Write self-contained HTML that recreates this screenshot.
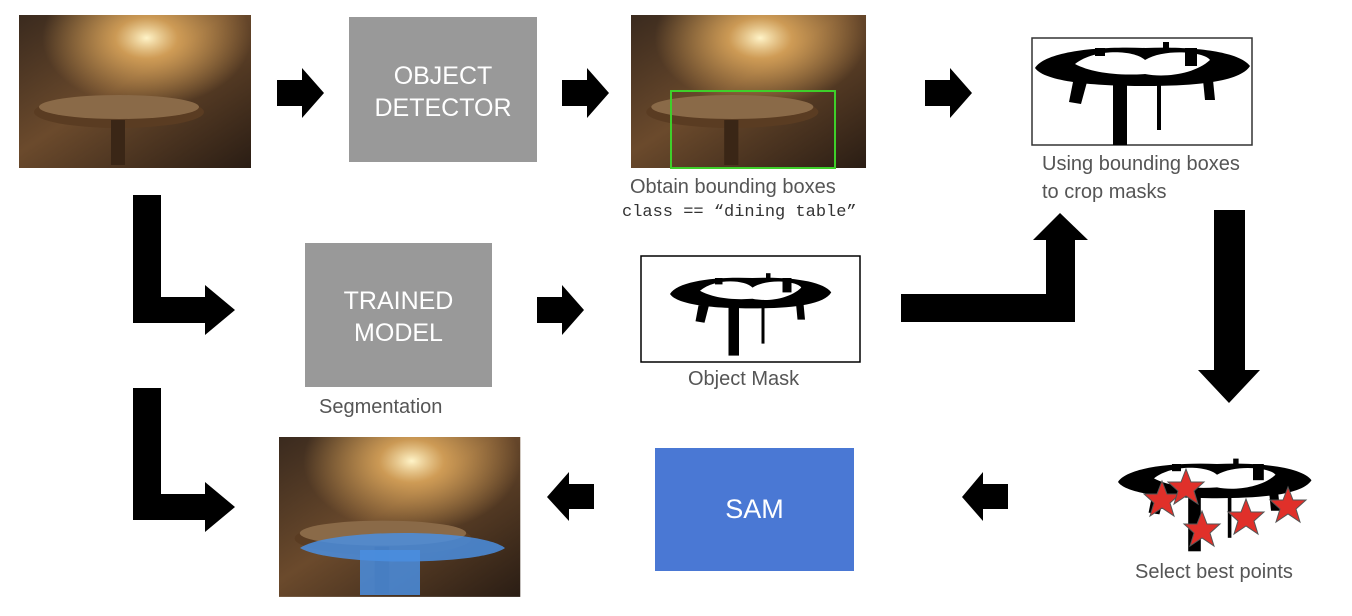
<!DOCTYPE html>
<html><head><meta charset="utf-8"><style>
html,body{margin:0;padding:0;background:#fff;}
body{width:1352px;height:616px;position:relative;overflow:hidden;font-family:"Liberation Sans",sans-serif;}
.t{position:absolute;color:#555;font-size:20px;white-space:nowrap;}
</style></head><body>
<svg width="1352" height="616" style="position:absolute;left:0;top:0">
<defs>
<linearGradient id="ph" x1="0" y1="0" x2="1" y2="1">
<stop offset="0" stop-color="#3a2a1e"/><stop offset="0.45" stop-color="#6b4a2c"/><stop offset="1" stop-color="#2a1d14"/>
</linearGradient>
<radialGradient id="sun" cx="0.55" cy="0.15" r="0.45">
<stop offset="0" stop-color="#fff4c8"/><stop offset="0.3" stop-color="#e8b060" stop-opacity="0.8"/><stop offset="1" stop-color="#e8b060" stop-opacity="0"/>
</radialGradient>
<g id="photo">
<rect width="232" height="153" fill="url(#ph)"/>
<rect width="232" height="153" fill="url(#sun)"/>
<ellipse cx="100" cy="97" rx="85" ry="16" fill="#5a3c22"/>
<ellipse cx="100" cy="92" rx="80" ry="12" fill="#8a6a48"/>
<rect x="92" y="105" width="14" height="45" fill="#3a2616"/>
</g>
<g id="mask">
<path d="M0,30 C10,14 60,8 110,10 C160,8 205,14 215,28 C205,44 160,48 110,48 C60,48 10,44 0,30 Z" fill="#000"/>
<path d="M40,26 C60,10 100,12 110,22 C130,10 170,14 175,22 C160,36 130,40 110,36 C80,38 55,34 40,26 Z" fill="#fff"/>
<path d="M38,44 L52,44 L46,66 L34,64 Z" fill="#000"/>
<rect x="78" y="40" width="14" height="67" fill="#000"/>
<rect x="122" y="40" width="4" height="52" fill="#000"/>
<path d="M168,42 L178,42 L180,62 L170,62 Z" fill="#000"/>
<rect x="60" y="10" width="10" height="8" fill="#000"/>
<rect x="128" y="4" width="6" height="8" fill="#000"/>
<rect x="150" y="10" width="12" height="18" fill="#000"/>
</g>
<polygon id="star" points="0,-19 5,-6 18,-6 8,3 12,16 0,8 -12,16 -8,3 -18,-6 -5,-6" fill="#e0302a" stroke="#555" stroke-width="1"/>
</defs>

<use href="#photo" x="19" y="15"/>
<use href="#photo" x="631" y="15" transform="translate(631,15) scale(1.013,1) translate(-631,-15)"/>
<rect x="671" y="91" width="164" height="77" fill="none" stroke="#3ecf2a" stroke-width="2"/>
<use href="#photo" transform="translate(279,437) scale(1.04,1.045)"/>
<path d="M300,548 C330,528 480,528 505,548 C480,566 330,566 300,548 Z" fill="#4a8ee0" opacity="0.85"/>
<rect x="360" y="550" width="60" height="45" fill="#4a8ee0" opacity="0.85"/>

<rect x="349" y="17" width="188" height="145" fill="#999"/>
<rect x="305" y="243" width="187" height="144" fill="#999"/>
<rect x="655" y="448" width="199" height="123" fill="#4a78d4"/>

<rect x="1032" y="38" width="220" height="107" fill="#fff" stroke="#333" stroke-width="1.5"/>
<use href="#mask" transform="translate(1035,38)"/>
<rect x="641" y="256" width="219" height="106" fill="#fff" stroke="#000" stroke-width="1.5"/>
<use href="#mask" transform="translate(670,270) scale(0.75,0.8)"/>
<use href="#mask" transform="translate(1118,455) scale(0.9,0.9)"/>
<use href="#star" x="1162" y="500"/>
<use href="#star" x="1186" y="488"/>
<use href="#star" x="1202" y="530"/>
<use href="#star" x="1246" y="518"/>
<use href="#star" x="1288" y="506"/>

<g fill="#000">
<polygon points="277,80 302,80 302,68 324,93 302,118 302,106 277,106"/>
<polygon points="562,80 587,80 587,68 609,93 587,118 587,106 562,106"/>
<polygon points="925,80 950,80 950,68 972,93 950,118 950,106 925,106"/>
<polygon points="537,297 562,297 562,285 584,310 562,335 562,323 537,323"/>
<polygon points="594,484 569,484 569,472 547,497 569,521 569,509 594,509"/>
<polygon points="1008,484 983,484 983,472 962,497 983,521 983,509 1008,509"/>
<polygon points="133,195 161,195 161,297 205,297 205,285 235,310 205,335 205,323 133,323"/>
<polygon points="133,388 161,388 161,494 205,494 205,482 235,507 205,532 205,520 133,520"/>
<polygon points="901,294 1046,294 1046,240 1033,240 1060,213 1088,240 1075,240 1075,322 901,322"/>
<polygon points="1214,210 1245,210 1245,370 1260,370 1229,403 1198,370 1214,370"/>
</g>
</svg>
<div class="t" style="left:349px;top:60px;width:188px;text-align:center;color:#fff;font-size:25px;line-height:32px">OBJECT<br>DETECTOR</div>
<div class="t" style="left:305px;top:285px;width:187px;text-align:center;color:#fff;font-size:25px;line-height:32px">TRAINED<br>MODEL</div>
<div class="t" style="left:655px;top:494px;width:199px;text-align:center;color:#fff;font-size:27px">SAM</div>
<div class="t" style="left:630px;top:176px">Obtain bounding boxes</div>
<div class="t" style="left:622px;top:203px;font-family:'Liberation Mono',monospace;font-size:17px;color:#333">class == “dining table”</div>
<div class="t" style="left:1042px;top:150px;line-height:28px">Using bounding boxes<br>to crop masks</div>
<div class="t" style="left:319px;top:396px">Segmentation</div>
<div class="t" style="left:688px;top:368px">Object Mask</div>
<div class="t" style="left:1135px;top:561px">Select best points</div>
</body></html>
